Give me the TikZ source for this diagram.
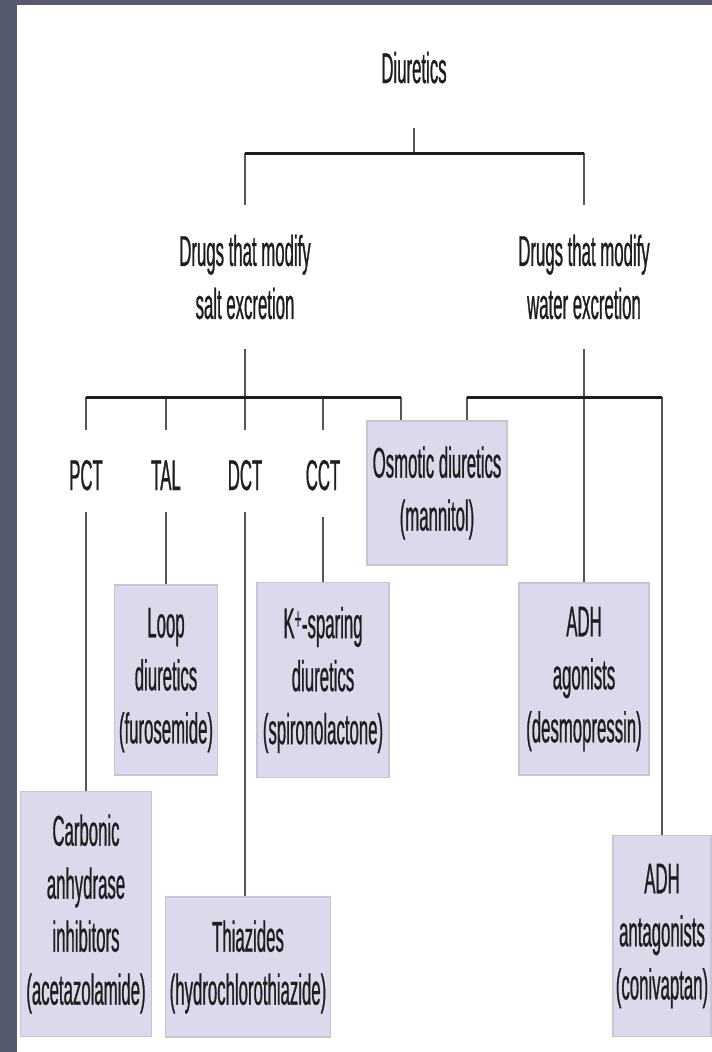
\documentclass[tikz,border=0pt]{standalone}
\usepackage{fontspec}
\setmainfont{Liberation Sans}[FakeStretch=0.39, FakeBold=0.6]
\usepackage{tikz}
\definecolor{slide}{RGB}{85,90,110}
\definecolor{boxfill}{RGB}{221,217,237}
\definecolor{boxline}{RGB}{200,196,216}
\definecolor{ink}{RGB}{30,30,30}
\tikzset{
  every node/.style={font=\fontsize{43}{53}\selectfont, text=ink, inner sep=0pt},
  heading/.style={align=center, outer ysep=30pt},
  site/.style={anchor=base, text height=60pt, text depth=22pt},
  drug/.style={draw=boxline, fill=boxfill, line width=1.2pt, align=center},
  twig/.style={draw=ink!75, line width=1.4pt},
  branch/.style={draw=ink, line width=3pt}
}

\begin{document}
\begin{tikzpicture}[x=1pt, y=-1pt]
    % slide frame
    \fill[slide] (0,0) rectangle (712,1052);
    \fill[white] (17,5) rectangle (712,1052);
    \useasboundingbox (0,0) rectangle (712,1052);

    \node[anchor=base, text depth=45pt] (diur) at (414,83) {Diuretics};
    \node[heading] (salt) at (245,277) {Drugs that modify\\salt excretion};
    \node[heading] (water) at (584,277) {Drugs that modify\\water excretion};

    \node[site] (pct) at (86,490) {PCT};
    \node[site] (tal) at (166,490) {TAL};
    \node[site] (dct) at (245,490) {DCT};
    \node[site, text depth=27pt] (cct) at (323,490) {CCT};

    % drug classes
    \node[drug, minimum width=140pt, minimum height=144pt] (osm) at (437,493) {Osmotic diuretics\\(mannitol)};
    \node[drug, minimum width=103pt, minimum height=190pt] (loop) at (166,680) {Loop\\diuretics\\(furosemide)};
    \node[drug, minimum width=132pt, minimum height=195pt] (kspar) at (323,680) {K\textsuperscript{+}-sparing\\diuretics\\(spironolactone)};
    \node[drug, minimum width=130pt, minimum height=192pt] (adhag) at (584,679) {ADH\\agonists\\(desmopressin)};
    \node[drug, minimum width=131pt, minimum height=245pt] (carb) at (86,914) {Carbonic\\anhydrase\\inhibitors\\(acetazolamide)};
    \node[drug, minimum width=165pt, minimum height=140pt] (thia) at (248,967) {Thiazides\\(hydrochlorothiazide)};
    \node[drug, minimum width=98pt, minimum height=201pt] (adhant) at (662,936) {ADH\\antagonists\\(conivaptan)};

    % junctions on the bars
    \coordinate (j0) at (414,153);
    \coordinate (jS) at (245,153);
    \coordinate (jW) at (584,153);
    \coordinate (jPCT) at (86,397);
    \coordinate (jTAL) at (166,397);
    \coordinate (jDCT) at (245,397);
    \coordinate (jCCT) at (323,397);
    \coordinate (jOsmL) at (401,397);
    \coordinate (jOsmR) at (467,397);
    \coordinate (jAnt) at (662,397);

    \draw[twig] (diur) -- (j0);
    \draw[twig] (jS) -- (salt);
    \draw[twig] (jW) -- (jW |- water.north);
    \draw[twig] (salt) -- (jDCT);
    \draw[twig] (jPCT) -- (pct);
    \draw[twig] (jTAL) -- (tal);
    \draw[twig] (jDCT) -- (dct);
    \draw[twig] (jCCT) -- (cct);
    \draw[twig] (jOsmL) -- (jOsmL |- osm.north);
    \draw[twig] (jOsmR) -- (jOsmR |- osm.north);
    \draw[twig] (water) -- (adhag);
    \draw[twig] (jAnt) -- (jAnt |- adhant.north);
    \draw[twig] (pct) -- (carb);
    \draw[twig] (tal) -- (loop);
    \draw[twig] (dct) -- (dct |- thia.north);
    \draw[twig] (cct) -- (kspar);

    \draw[branch] (jS) -- (jW);
    \draw[branch] (jPCT) -- (jOsmL);
    \draw[branch] (jOsmR) -- (jAnt);
\end{tikzpicture}
\end{document}
